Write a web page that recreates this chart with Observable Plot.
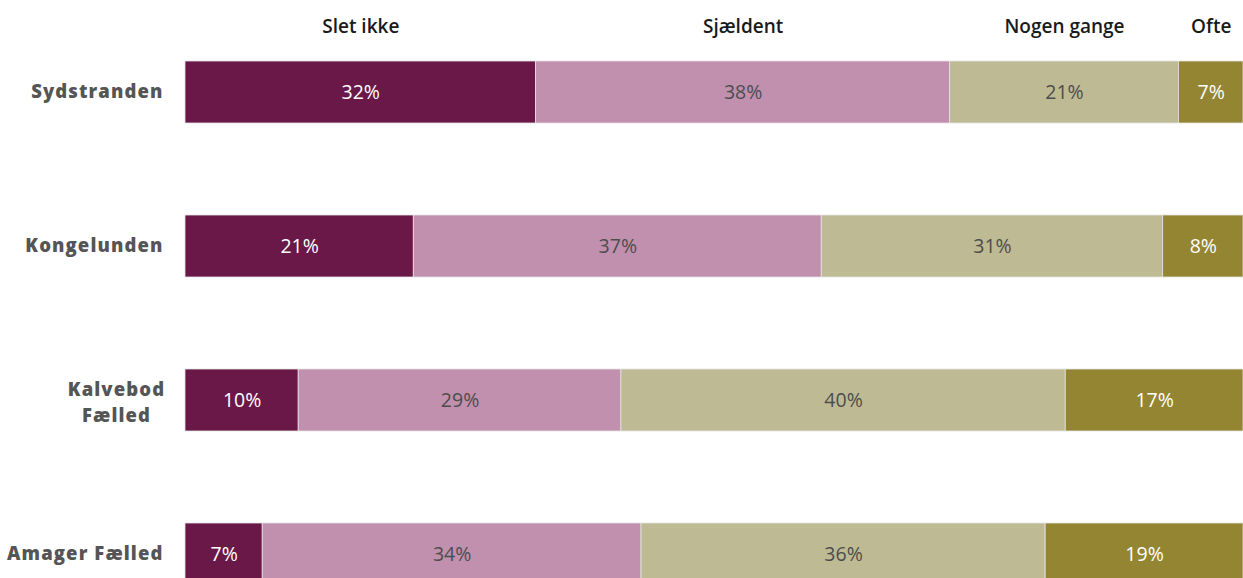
<!DOCTYPE html>
<html><head><meta charset="utf-8">
<script src="https://cdn.jsdelivr.net/npm/d3@7"></script>
<script src="https://cdn.jsdelivr.net/npm/@observablehq/plot@0.6"></script>
<style>
html,body{margin:0;padding:0;background:#fff;overflow:hidden;}
#chart svg{display:block;}
#chart g[aria-label="y-axis tick label"] text{letter-spacing:1.1px;}
</style></head><body><div id="chart"></div>
<script>
// Areas (rows) and answer categories (series)
const areas = ["Sydstranden", "Kongelunden", "Kalvebod Fælled", "Amager Fælled"];
const answers = ["Slet ikke", "Sjældent", "Nogen gange", "Ofte"];
// Bar shares (length of each segment, % of bar)
const sletIkke   = [33.1, 21.6, 10.7, 7.3];
const sjaeldent  = [39.1, 38.6, 30.5, 35.8];
const nogenGange = [21.6, 32.3, 42.0, 38.2];
const ofte       = [6.1, 7.6, 16.8, 18.7];
// Printed labels in the bars
const sletIkkeLabel   = [32, 21, 10, 7];
const sjaeldentLabel  = [38, 37, 29, 34];
const nogenGangeLabel = [21, 31, 40, 36];
const ofteLabel       = [7, 8, 17, 19];

const colors = ["#6a1848", "#c090ae", "#bebb94", "#948532"];
const textColors = ["#ffffff", "#4d4d4d", "#4d4d4d", "#ffffff"];

const seriesShares = [sletIkke, sjaeldent, nogenGange, ofte];
const seriesLabels = [sletIkkeLabel, sjaeldentLabel, nogenGangeLabel, ofteLabel];

const rows = [];
areas.forEach((area, i) => {
  answers.forEach((answer, j) => {
    rows.push({area, answer, share: seriesShares[j][i], label: seriesLabels[j][i], tc: textColors[j]});
  });
});
const firstRow = rows.filter(d => d.area === areas[0]);

const stackOpts = {x: "share", y: "area", z: "answer", offset: "normalize", order: null};
const axisStyle = {tickSize: 0, tickPadding: 22, fontSize: 18.5, fontWeight: 800, fill: "#555", stroke: "#555", strokeWidth: 0.6, label: null};

const chart = Plot.plot({
  width: 1243,
  height: 578,
  marginLeft: 185,
  marginRight: 0,
  marginTop: 0,
  marginBottom: 0,
  style: {fontFamily: "'Open Sans', sans-serif", background: "#fff"},
  x: {axis: null},
  y: {domain: areas, range: [13.75, 631.75], paddingInner: 0.6, paddingOuter: 0.3, axis: null},
  color: {domain: answers, range: colors},
  marks: [
    Plot.barX(rows, Plot.stackX({...stackOpts, fill: "answer", stroke: "#e4e4e4", strokeWidth: 0.8})),
    Plot.text(rows, Plot.stackX({...stackOpts, text: d => d.label + "%", fill: "tc", fontSize: 19.5})),
    Plot.text(firstRow, Plot.stackX({...stackOpts, text: "answer", fill: "#1a1a1a", fontSize: 19, fontWeight: 600, dy: -66})),
    Plot.axisY({...axisStyle, ticks: areas.filter(a => a !== "Kalvebod Fælled")}),
    Plot.axisY({...axisStyle, ticks: ["Kalvebod Fælled"], tickFormat: () => "Kalvebod\nFælled", textAnchor: "middle", dx: -47, lineHeight: 1.45})
  ]
});
document.getElementById("chart").appendChild(chart);
</script>
</body></html>
